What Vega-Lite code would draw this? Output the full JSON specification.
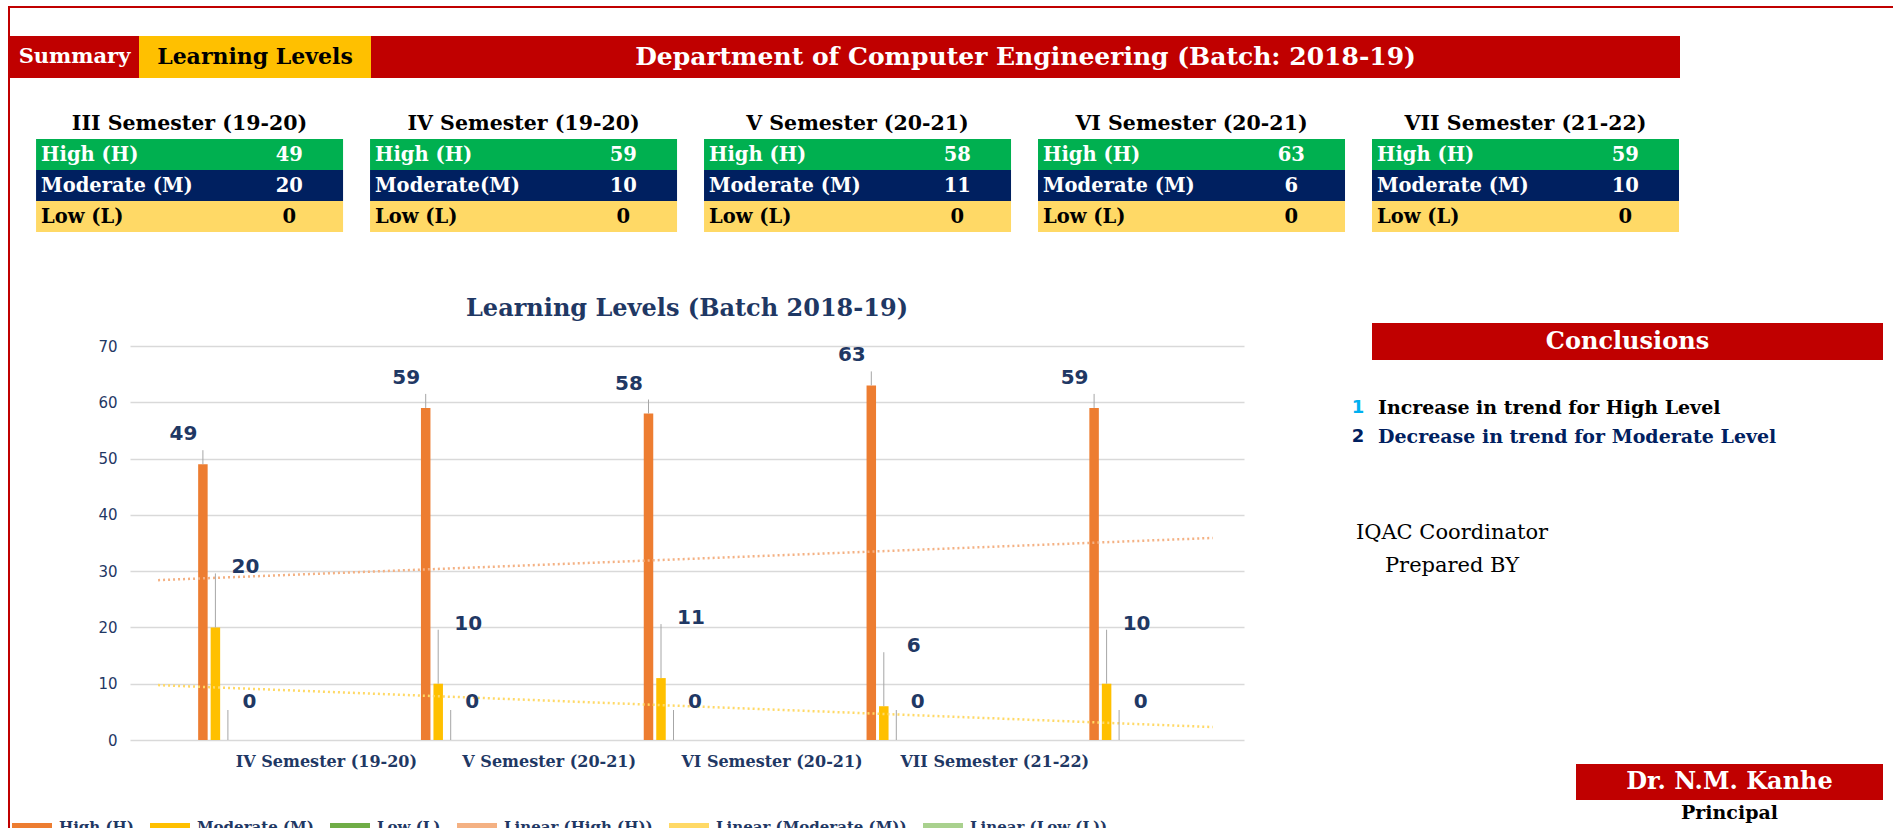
{
  "$schema": "https://vega.github.io/schema/vega-lite/v6.json",
  "padding": {"left": 8, "top": 6, "right": 0, "bottom": 0},
  "background": "#FFFFFF",
  "config": {"view": {"stroke": null}, "concat": {"spacing": 0}, "font": "DejaVu Serif"},
  "datasets": {
    "levels": [
      {"semester": "III Semester (19-20)", "series": "High (H)", "label": "High (H)", "value": 49},
      {"semester": "III Semester (19-20)", "series": "Moderate (M)", "label": "Moderate (M)", "value": 20},
      {"semester": "III Semester (19-20)", "series": "Low (L)", "label": "Low (L)", "value": 0},
      {"semester": "IV Semester (19-20)", "series": "High (H)", "label": "High (H)", "value": 59},
      {"semester": "IV Semester (19-20)", "series": "Moderate (M)", "label": "Moderate(M)", "value": 10},
      {"semester": "IV Semester (19-20)", "series": "Low (L)", "label": "Low (L)", "value": 0},
      {"semester": "V Semester (20-21)", "series": "High (H)", "label": "High (H)", "value": 58},
      {"semester": "V Semester (20-21)", "series": "Moderate (M)", "label": "Moderate (M)", "value": 11},
      {"semester": "V Semester (20-21)", "series": "Low (L)", "label": "Low (L)", "value": 0},
      {"semester": "VI Semester (20-21)", "series": "High (H)", "label": "High (H)", "value": 63},
      {"semester": "VI Semester (20-21)", "series": "Moderate (M)", "label": "Moderate (M)", "value": 6},
      {"semester": "VI Semester (20-21)", "series": "Low (L)", "label": "Low (L)", "value": 0},
      {"semester": "VII Semester (21-22)", "series": "High (H)", "label": "High (H)", "value": 59},
      {"semester": "VII Semester (21-22)", "series": "Moderate (M)", "label": "Moderate (M)", "value": 10},
      {"semester": "VII Semester (21-22)", "series": "Low (L)", "label": "Low (L)", "value": 0}
    ],
    "trend": [
      {"series": "Linear (High (H))", "from": "III Semester (19-20)", "to": "VII Semester (21-22)", "start": 28.4, "end": 35.9},
      {"series": "Linear (Moderate (M))", "from": "III Semester (19-20)", "to": "VII Semester (21-22)", "start": 9.75, "end": 2.3}
    ],
    "conclusions": [
      {"no": "1", "text": "Increase in trend for High Level"},
      {"no": "2", "text": "Decrease in trend for Moderate Level"}
    ],
    "signoff": [
      {"role": "IQAC Coordinator"},
      {"role": "Prepared BY"}
    ]
  },
  "hconcat": [
    {"width": 2, "height": 822, "view": {"fill": "#C00000", "stroke": null}, "data": {"values": [{"s": 0}]}, "mark": {"type": "point", "size": 0, "filled": true, "strokeWidth": 0, "opacity": 0}, "encoding": {}},
    {
      "spacing": 0,
      "vconcat": [
        {"width": 1883, "height": 2, "view": {"fill": "#C00000", "stroke": null}, "data": {"values": [{"s": 0}]}, "mark": {"type": "point", "size": 0, "filled": true, "strokeWidth": 0, "opacity": 0}, "encoding": {}},
        {"width": 1, "height": 28, "data": {"values": [{"s": 0}]}, "mark": {"type": "point", "size": 0, "filled": true, "strokeWidth": 0, "opacity": 0}, "encoding": {}},
        {
          "spacing": 0,
          "hconcat": [
            {"width": 129, "height": 42, "view": {"fill": "#C00000", "stroke": null}, "data": {"values": [{"t": "Summary"}]}, "mark": {"type": "text", "baseline": "middle", "font": "DejaVu Serif", "fontWeight": "bold", "fontSize": 21, "color": "#FFFFFF"}, "encoding": {"text": {"field": "t"}}},
            {"width": 232, "height": 42, "view": {"fill": "#FFC000", "stroke": null}, "data": {"values": [{"t": "Learning Levels"}]}, "mark": {"type": "text", "baseline": "middle", "font": "DejaVu Serif", "fontWeight": "bold", "fontSize": 22, "color": "#000000"}, "encoding": {"text": {"field": "t"}}},
            {"width": 1309, "height": 42, "view": {"fill": "#C00000", "stroke": null}, "data": {"values": [{"t": "Department of Computer Engineering (Batch: 2018-19)"}]}, "mark": {"type": "text", "baseline": "middle", "font": "DejaVu Serif", "fontWeight": "bold", "fontSize": 25, "color": "#FFFFFF"}, "encoding": {"text": {"field": "t"}}}
          ]
        },
        {"width": 1, "height": 30, "data": {"values": [{"s": 0}]}, "mark": {"type": "point", "size": 0, "filled": true, "strokeWidth": 0, "opacity": 0}, "encoding": {}},
        {
          "width": 1669,
          "height": 124,
          "data": {"name": "levels"},
          "layer": [
            {
              "mark": {"type": "rect"},
              "encoding": {
                "x": {"field": "semester", "type": "nominal", "scale": {"domain": ["III Semester (19-20)", "IV Semester (19-20)", "V Semester (20-21)", "VI Semester (20-21)", "VII Semester (21-22)"], "paddingInner": 0.0808, "paddingOuter": 0.039, "align": 1}, "axis": null},
                "y": {"field": "series", "type": "nominal", "scale": {"domain": ["Semester", "High (H)", "Moderate (M)", "Low (L)"], "paddingInner": 0, "paddingOuter": 0}, "axis": null},
                "fill": {"field": "series", "type": "nominal", "scale": {"domain": ["High (H)", "Moderate (M)", "Low (L)"], "range": ["#00B050", "#002060", "#FFD966"]}, "legend": null}
              }
            },
            {
              "mark": {"type": "text", "align": "left", "baseline": "middle", "dx": 5, "font": "DejaVu Serif", "fontWeight": "bold", "fontSize": 19.5},
              "encoding": {
                "x": {"field": "semester", "type": "nominal", "bandPosition": 0, "axis": null},
                "y": {"field": "series", "type": "nominal", "axis": null},
                "text": {"field": "label"},
                "color": {"condition": {"test": "datum.series === 'Low (L)'", "value": "#000000"}, "value": "#FFFFFF"}
              }
            },
            {
              "mark": {"type": "text", "align": "center", "baseline": "middle", "font": "DejaVu Serif", "fontWeight": "bold", "fontSize": 19.5},
              "encoding": {
                "x": {"field": "semester", "type": "nominal", "bandPosition": 0.825, "axis": null},
                "y": {"field": "series", "type": "nominal", "axis": null},
                "text": {"field": "value"},
                "color": {"condition": {"test": "datum.series === 'Low (L)'", "value": "#000000"}, "value": "#FFFFFF"}
              }
            },
            {
              "transform": [{"filter": "datum.series === 'High (H)'"}],
              "mark": {"type": "text", "align": "center", "baseline": "middle", "font": "DejaVu Serif", "fontWeight": "bold", "fontSize": 20.5, "color": "#000000"},
              "encoding": {
                "x": {"field": "semester", "type": "nominal", "axis": null},
                "y": {"datum": "Semester", "type": "nominal", "axis": null},
                "text": {"field": "semester"}
              }
            }
          ]
        },
        {"width": 1, "height": 64, "data": {"values": [{"s": 0}]}, "mark": {"type": "point", "size": 0, "filled": true, "strokeWidth": 0, "opacity": 0}, "encoding": {}},
        {
          "spacing": 0,
          "hconcat": [
            {"width": 87, "height": 1, "data": {"values": [{"s": 0}]}, "mark": {"type": "point", "size": 0, "filled": true, "strokeWidth": 0, "opacity": 0}, "encoding": {}},
            {
              "spacing": 0,
              "vconcat": [
                {"width": 1, "height": 1, "data": {"values": [{"s": 0}]}, "mark": {"type": "point", "size": 0, "filled": true, "strokeWidth": 0, "opacity": 0}, "encoding": {}},
                {
                  "width": 1114,
                  "height": 394,
                  "title": {"text": "Learning Levels (Batch 2018-19)", "font": "DejaVu Serif", "fontWeight": "bold", "fontSize": 24, "color": "#1F3864", "anchor": "middle", "frame": "group", "offset": 18},
                  "encoding": {
                    "x": {"field": "semester", "type": "nominal", "scale": {"domain": ["III Semester (19-20)", "IV Semester (19-20)", "V Semester (20-21)", "VI Semester (20-21)", "VII Semester (21-22)"], "paddingInner": 0, "paddingOuter": 0},
                      "axis": {"title": null, "domain": false, "ticks": false, "grid": false, "labelAngle": 0, "labelOffset": 85, "labelPadding": 13, "labelFont": "DejaVu Serif", "labelFontWeight": "bold", "labelFontSize": 16, "labelColor": "#1F3864", "labelLimit": 400, "labelOverlap": false,
                        "labelExpr": "datum.value === 'III Semester (19-20)' ? 'IV Semester (19-20)' : datum.value === 'IV Semester (19-20)' ? 'V Semester (20-21)' : datum.value === 'V Semester (20-21)' ? 'VI Semester (20-21)' : datum.value === 'VI Semester (20-21)' ? 'VII Semester (21-22)' : ''"}},
                    "y": {"field": "value", "type": "quantitative", "scale": {"domain": [0, 70], "nice": false},
                      "axis": {"title": null, "values": [0, 10, 20, 30, 40, 50, 60, 70], "domain": false, "ticks": false, "grid": true, "gridColor": "#D9D9D9", "gridWidth": 1.5, "labelFont": "DejaVu Sans", "labelFontSize": 15, "labelColor": "#1F3864", "labelPadding": 13}}
                  },
                  "layer": [
                    {
                      "data": {"name": "levels"},
                      "transform": [{"filter": "datum.series === 'High (H)'"}],
                      "mark": {"type": "bar", "width": 9.5, "xOffset": -38.5},
                      "encoding": {
                        "color": {"field": "series", "type": "nominal",
                          "scale": {"domain": ["High (H)", "Moderate (M)", "Low (L)", "Linear (High (H))", "Linear (Moderate (M))", "Linear (Low (L))"], "range": ["#ED7D31", "#FFC000", "#70AD47", "#F4B183", "#FFD966", "#A9D18E"]},
                          "legend": {"orient": "bottom", "direction": "horizontal", "title": null, "symbolType": "stroke", "symbolSize": 1600, "symbolStrokeWidth": 8, "labelFont": "DejaVu Serif", "labelFontWeight": "bold", "labelFontSize": 15, "labelColor": "#1F3864", "labelLimit": 400, "labelOffset": 3, "columnPadding": 0, "offset": -25}}
                      }
                    },
                    {
                      "data": {"name": "levels"},
                      "transform": [{"filter": "datum.series === 'Moderate (M)'"}],
                      "mark": {"type": "bar", "width": 9.5, "xOffset": -26},
                      "encoding": {"color": {"field": "series", "type": "nominal"}}
                    },
                    {
                      "data": {"name": "levels"},
                      "transform": [{"filter": "datum.series === 'Low (L)'"}],
                      "mark": {"type": "bar", "width": 9.5, "xOffset": -13.5},
                      "encoding": {"color": {"field": "series", "type": "nominal"}}
                    },
                    {
                      "data": {"name": "trend"},
                      "mark": {"type": "rule", "strokeDash": [2, 3], "strokeWidth": 2.5},
                      "encoding": {
                        "x": {"field": "from", "type": "nominal", "bandPosition": 0.126},
                        "x2": {"field": "to", "bandPosition": 0.86},
                        "y": {"field": "start", "type": "quantitative"},
                        "y2": {"field": "end"},
                        "color": {"field": "series", "type": "nominal"}
                      }
                    },
                    {"data": {"name": "levels"}, "transform": [{"filter": "datum.series === 'High (H)'"}], "mark": {"type": "rule", "color": "#A6A6A6", "strokeWidth": 1, "xOffset": -38.5, "y2Offset": -14}, "encoding": {"y2": {"field": "value"}}},
                    {"data": {"name": "levels"}, "transform": [{"filter": "datum.series === 'Moderate (M)'"}], "mark": {"type": "rule", "color": "#A6A6A6", "strokeWidth": 1, "xOffset": -26, "y2Offset": -54}, "encoding": {"y2": {"field": "value"}}},
                    {"data": {"name": "levels"}, "transform": [{"filter": "datum.series === 'Low (L)'"}], "mark": {"type": "rule", "color": "#A6A6A6", "strokeWidth": 1, "xOffset": -13.5, "y2Offset": -30}, "encoding": {"y2": {"field": "value"}}},
                    {"data": {"name": "levels"}, "transform": [{"filter": "datum.series === 'High (H)'"}], "mark": {"type": "text", "dx": -58, "dy": -30, "align": "center", "baseline": "middle", "font": "DejaVu Sans", "fontWeight": "bold", "fontSize": 20, "color": "#1F3864"}, "encoding": {"text": {"field": "value"}}},
                    {"data": {"name": "levels"}, "transform": [{"filter": "datum.series === 'Moderate (M)'"}], "mark": {"type": "text", "dx": 4, "dy": -60, "align": "center", "baseline": "middle", "font": "DejaVu Sans", "fontWeight": "bold", "fontSize": 20, "color": "#1F3864"}, "encoding": {"text": {"field": "value"}}},
                    {"data": {"name": "levels"}, "transform": [{"filter": "datum.series === 'Low (L)'"}], "mark": {"type": "text", "dx": 8, "dy": -38, "align": "center", "baseline": "middle", "font": "DejaVu Sans", "fontWeight": "bold", "fontSize": 20, "color": "#1F3864"}, "encoding": {"text": {"field": "value"}}}
                  ]
                }
              ]
            },
            {"width": 98, "height": 1, "data": {"values": [{"s": 0}]}, "mark": {"type": "point", "size": 0, "filled": true, "strokeWidth": 0, "opacity": 0}, "encoding": {}},
            {
              "spacing": 0,
              "vconcat": [
                {"width": 1, "height": 27, "data": {"values": [{"s": 0}]}, "mark": {"type": "point", "size": 0, "filled": true, "strokeWidth": 0, "opacity": 0}, "encoding": {}},
                {
                  "spacing": 0,
                  "hconcat": [
                    {"width": 30, "height": 1, "data": {"values": [{"s": 0}]}, "mark": {"type": "point", "size": 0, "filled": true, "strokeWidth": 0, "opacity": 0}, "encoding": {}},
                    {"width": 511, "height": 37, "view": {"fill": "#C00000", "stroke": null}, "data": {"values": [{"t": "Conclusions"}]}, "mark": {"type": "text", "baseline": "middle", "font": "DejaVu Serif", "fontWeight": "bold", "fontSize": 24, "color": "#FFFFFF"}, "encoding": {"text": {"field": "t"}}}
                  ]
                },
                {"width": 1, "height": 33, "data": {"values": [{"s": 0}]}, "mark": {"type": "point", "size": 0, "filled": true, "strokeWidth": 0, "opacity": 0}, "encoding": {}},
                {
                  "spacing": 0,
                  "hconcat": [
                    {"width": 9, "height": 1, "data": {"values": [{"s": 0}]}, "mark": {"type": "point", "size": 0, "filled": true, "strokeWidth": 0, "opacity": 0}, "encoding": {}},
                    {
                      "width": 2,
                      "height": 58,
                      "data": {"name": "conclusions"},
                      "layer": [
                        {"mark": {"type": "text", "align": "center", "baseline": "middle", "dx": -20, "font": "DejaVu Sans", "fontWeight": "bold", "fontSize": 18},
                          "encoding": {
                            "y": {"field": "no", "type": "nominal", "scale": {"domain": ["1", "2"], "paddingInner": 0, "paddingOuter": 0}, "axis": null},
                            "text": {"field": "no"},
                            "color": {"condition": {"test": "datum.no === '1'", "value": "#00B0F0"}, "value": "#002060"}}},
                        {"mark": {"type": "text", "align": "left", "baseline": "middle", "font": "DejaVu Serif", "fontWeight": "bold", "fontSize": 19},
                          "encoding": {
                            "y": {"field": "no", "type": "nominal", "axis": null},
                            "text": {"field": "text"},
                            "color": {"condition": {"test": "datum.no === '1'", "value": "#000000"}, "value": "#002060"}}}
                      ]
                    }
                  ]
                },
                {"width": 1, "height": 64.5, "data": {"values": [{"s": 0}]}, "mark": {"type": "point", "size": 0, "filled": true, "strokeWidth": 0, "opacity": 0}, "encoding": {}},
                {
                  "width": 220,
                  "height": 66,
                  "data": {"name": "signoff"},
                  "mark": {"type": "text", "align": "center", "baseline": "middle", "font": "DejaVu Serif", "fontSize": 21, "color": "#000000"},
                  "encoding": {
                    "y": {"field": "role", "type": "nominal", "scale": {"domain": ["IQAC Coordinator", "Prepared BY"], "paddingInner": 0, "paddingOuter": 0}, "axis": null},
                    "text": {"field": "role"}
                  }
                },
                {"width": 1, "height": 181.5, "data": {"values": [{"s": 0}]}, "mark": {"type": "point", "size": 0, "filled": true, "strokeWidth": 0, "opacity": 0}, "encoding": {}},
                {
                  "spacing": 0,
                  "hconcat": [
                    {"width": 234, "height": 1, "data": {"values": [{"s": 0}]}, "mark": {"type": "point", "size": 0, "filled": true, "strokeWidth": 0, "opacity": 0}, "encoding": {}},
                    {"width": 307, "height": 36, "view": {"fill": "#C00000", "stroke": null}, "data": {"values": [{"t": "Dr. N.M. Kanhe"}]},
                      "title": {"text": "Principal", "orient": "bottom", "anchor": "middle", "frame": "group", "font": "DejaVu Serif", "fontWeight": "bold", "fontSize": 19, "color": "#000000", "offset": 4},
                      "mark": {"type": "text", "baseline": "middle", "font": "DejaVu Serif", "fontWeight": "bold", "fontSize": 24, "color": "#FFFFFF"}, "encoding": {"text": {"field": "t"}}}
                  ]
                }
              ]
            }
          ]
        }
      ]
    }
  ]
}
